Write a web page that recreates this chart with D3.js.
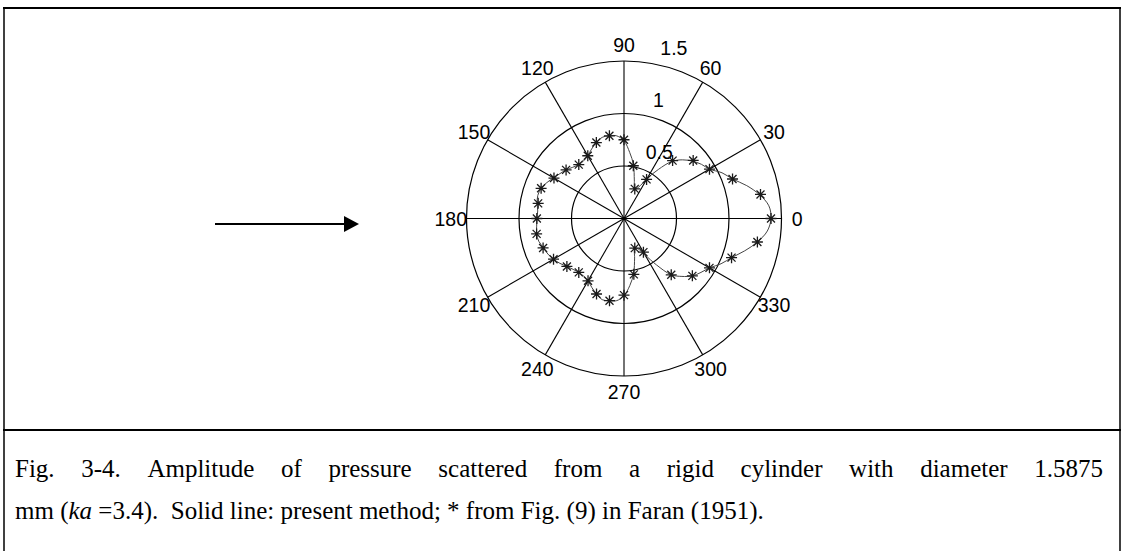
<!DOCTYPE html>
<html>
<head>
<meta charset="utf-8">
<script src="https://cdn.jsdelivr.net/npm/d3@7"></script>
<style>
  html, body { margin: 0; padding: 0; background: #fff; }
  svg { display: block; }
  .cap { font-family: "Liberation Serif", "Times New Roman", serif; }
</style>
</head>
<body>
<svg id="fig" width="1124" height="551"></svg>
<script>
// Scattered pressure amplitude vs. angle (degrees)
const starAngles = [0,10,20,30,40,50,60,70,80,90,100,110,120,130,140,150,160,170,
                    180,190,200,210,220,230,240,250,260,270,280,290,300,310,320,330,340,350];
const starR = [1.40,1.32,1.10,0.94,0.86,0.72,0.43,0.30,0.51,0.75,0.80,0.77,0.69,0.67,0.72,0.77,0.84,0.83,
               0.83,0.845,0.82,0.775,0.71,0.67,0.685,0.765,0.795,0.73,0.54,0.30,0.37,0.70,0.85,0.94,1.09,1.29];

const lineAngles = [0,5,10,15,20,25,30,35,40,45,50,55,60,65,70,75,80,85,90,95,100,105,110,115,120,125,130,135,140,145,150,155,160,165,170,175,
                    180,185,190,195,200,205,210,215,220,225,230,235,240,245,250,255,260,265,270,275,280,285,290,295,300,305,310,315,320,325,330,335,340,345,350,355];
const lineR = [1.40,1.385,1.31,1.21,1.10,1.03,0.94,0.90,0.85,0.79,0.71,0.57,0.44,0.33,0.30,0.38,0.52,0.63,0.74,0.79,0.80,0.80,0.77,0.73,0.69,0.67,0.67,0.69,0.72,0.745,0.775,0.81,0.84,0.85,0.84,0.825,
               0.83,0.835,0.845,0.84,0.815,0.80,0.775,0.745,0.71,0.685,0.67,0.67,0.685,0.725,0.765,0.80,0.795,0.785,0.735,0.64,0.53,0.39,0.30,0.32,0.40,0.54,0.70,0.78,0.85,0.895,0.94,1.02,1.09,1.19,1.29,1.37];

const angleTicks = [0,30,60,90,120,150,180,210,240,270,300,330];
const radialTicks = [0.5,1,1.5];

const captionLine1 = "Fig. 3-4. Amplitude of pressure scattered from a rigid cylinder with diameter 1.5875";
const captionLine2 = [
  {t: "mm ("}, {t: "ka", i: true}, {t: " =3.4).\u00a0\u00a0Solid line: present method; * from Fig. (9) in Faran (1951)."}
];

const svg = d3.select("#fig");

// table frame
const frame = svg.append("g").attr("stroke", "#000").attr("fill", "none");
frame.append("line").attr("x1", 3).attr("x2", 1121).attr("y1", 8).attr("y2", 8).attr("stroke-width", 2);
frame.append("line").attr("x1", 4).attr("x2", 4).attr("y1", 7).attr("y2", 551).attr("stroke-width", 1.5);
frame.append("line").attr("x1", 1120).attr("x2", 1120).attr("y1", 7).attr("y2", 551).attr("stroke-width", 1.5);
frame.append("line").attr("x1", 3).attr("x2", 1121).attr("y1", 430).attr("y2", 430).attr("stroke-width", 2);

// incident wave arrow
const arrow = svg.append("g");
arrow.append("line").attr("x1", 215).attr("x2", 346).attr("y1", 224).attr("y2", 224)
  .attr("stroke", "#000").attr("stroke-width", 2);
arrow.append("path").attr("d", "M344,216L359,224L344,232Z").attr("fill", "#000");

// polar plot
const cx = 624, cy = 218.5;
const r = d3.scaleLinear().domain([0, 1.5]).range([0, 157.5]);
const rad = d => d * Math.PI / 180;
const g = svg.append("g").attr("transform", `translate(${cx},${cy})`);

g.selectAll("circle.grid").data(radialTicks).join("circle")
  .attr("class", "grid").attr("r", d => r(d))
  .attr("fill", "none").attr("stroke", "#000").attr("stroke-width", 1.2);

g.selectAll("line.spoke").data(angleTicks).join("line")
  .attr("class", "spoke")
  .attr("x1", 0).attr("y1", 0)
  .attr("x2", d => r(1.5) * Math.cos(rad(d)))
  .attr("y2", d => -r(1.5) * Math.sin(rad(d)))
  .attr("stroke", "#000").attr("stroke-width", 1.1);

const labelFont = "Liberation Sans, Arial, sans-serif";
g.selectAll("text.ang").data(angleTicks).join("text")
  .attr("class", "ang")
  .attr("x", d => 1.1 * r(1.5) * Math.cos(rad(d)))
  .attr("y", d => -1.1 * r(1.5) * Math.sin(rad(d)))
  .attr("text-anchor", "middle").attr("dominant-baseline", "central")
  .attr("font-family", labelFont).attr("font-size", 19.5).attr("fill", "#000")
  .text(d => d);

const a82 = rad(82);
g.selectAll("text.rad").data(radialTicks).join("text")
  .attr("class", "rad")
  .attr("x", d => r(d + 0.025) * Math.cos(a82) + 14)
  .attr("y", d => -r(d + 0.025) * Math.sin(a82) - 5)
  .attr("font-family", labelFont).attr("font-size", 19.5).attr("fill", "#000")
  .text(d => d);

// computed curve
const linePts = lineAngles.map((a, i) => [a, lineR[i]]);
const radial = d3.lineRadial()
  .angle(d => Math.PI / 2 - rad(d[0]))
  .radius(d => r(d[1]))
  .curve(d3.curveCatmullRomClosed.alpha(0.5));
g.append("path").datum(linePts).attr("d", radial)
  .attr("fill", "none").attr("stroke", "#444").attr("stroke-width", 1);

// reference points (asterisks)
const starPath = "M-5.5,0H5.5M0,-5.5V5.5M-4,-4L4,4M-4,4L4,-4";
g.selectAll("path.star").data(starAngles.map((a, i) => [a, starR[i]])).join("path")
  .attr("class", "star")
  .attr("transform", d => `translate(${r(d[1]) * Math.cos(rad(d[0]))},${-r(d[1]) * Math.sin(rad(d[0]))})`)
  .attr("d", starPath)
  .attr("fill", "none").attr("stroke", "#1a1a1a").attr("stroke-width", 1.3);

// caption: first line justified across the cell, second line left-aligned
const cap = svg.append("g").attr("class", "cap").attr("font-size", 25).attr("fill", "#000");
const capLeft = 15, capRight = 1103;
const words = captionLine1.split(" ");
const t1 = cap.append("text").attr("y", 477);
const spans = words.map(w => t1.append("tspan").text(w));
const widths = spans.map(s => s.node().getComputedTextLength());
const gap = (capRight - capLeft - d3.sum(widths)) / (words.length - 1);
let xPos = capLeft;
spans.forEach((s, i) => { s.attr("x", xPos); xPos += widths[i] + gap; });

const t2 = cap.append("text").attr("x", capLeft).attr("y", 519);
captionLine2.forEach(p => {
  t2.append("tspan").attr("font-style", p.i ? "italic" : null).text(p.t);
});
</script>
</body>
</html>
